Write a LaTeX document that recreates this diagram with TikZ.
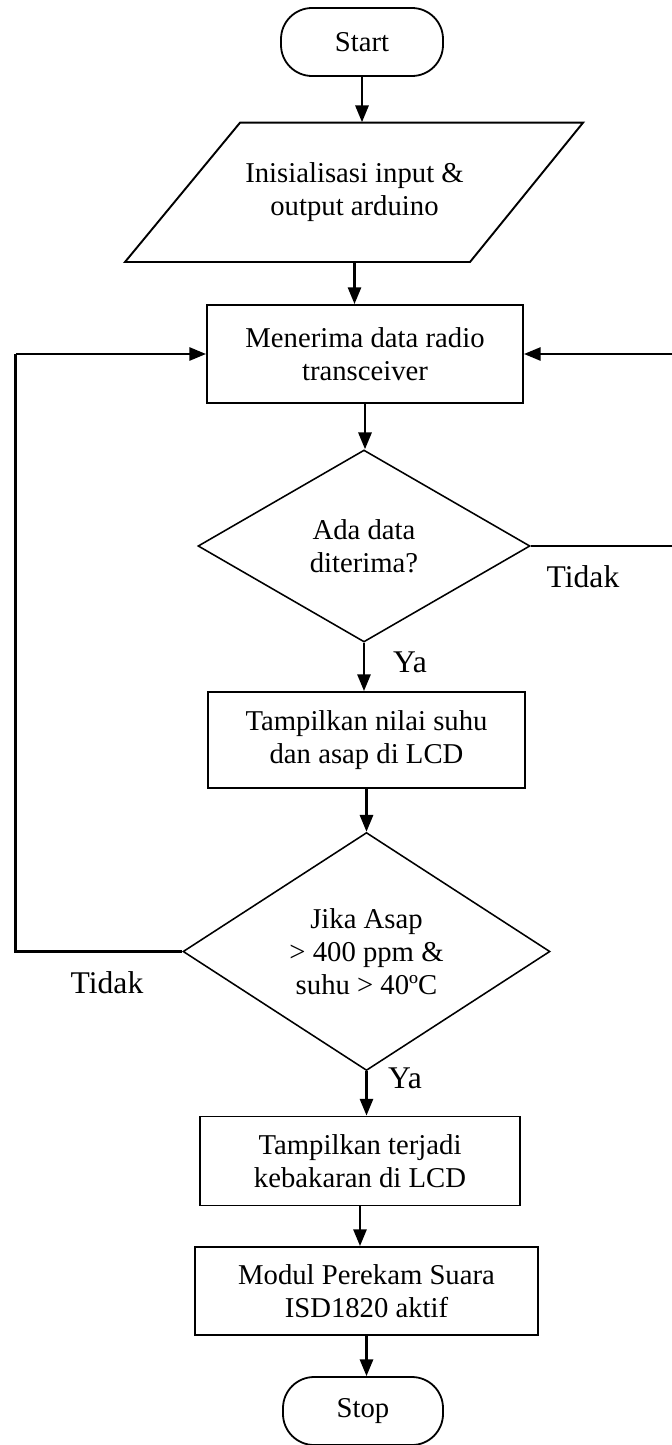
\documentclass[tikz,border=0pt]{standalone}
\usepackage{fontspec}
\setmainfont{Liberation Serif}
\usetikzlibrary{arrows.meta,shapes.geometric}
\begin{document}
\begin{tikzpicture}[x=0.418pt,y=-0.418pt,
  every node/.style={font=\fontsize{12}{13.8}\selectfont,align=center,inner sep=0pt},
  sz/.style 2 args={minimum width={#1*0.418pt},minimum height={#2*0.418pt}},
  term/.style={draw,line width=0.75pt,rectangle,rounded corners=13pt},
  procbox/.style={draw,line width=0.8pt,rectangle},
  decision/.style={draw,line width=0.65pt,diamond,aspect=1.6},
  arr/.style={line width=1pt,-{Triangle[length=7pt,width=5.5pt]}},
  plain/.style={line width=0.9pt},
  lbl/.style={anchor=base,font=\fontsize{13.2}{15}\selectfont}]
\useasboundingbox (0,0) rectangle (671,1445);
% nodes
\node[term,sz={162}{68}] (start) at (362,42) {Start};
\node[sz={230}{139.3}] (init) at (354.5,192.35) {Inisialisasi input \&\\output arduino};
\draw[line width=0.8pt] (240,122.7) -- (583,122.7) -- (470,262) -- (125,262) -- cycle;
\node[procbox,sz={316}{98}] (recv) at (365,354) {Menerima data radio\\transceiver};
\node[decision,sz={332}{192}] (d1) at (364,546) {Ada data\\diterima?};
\node[procbox,sz={317}{96}] (show) at (366.5,740) {Tampilkan nilai suhu\\dan asap di LCD};
\node[decision,sz={367}{238}] (d2) at (366.5,951.5) {Jika Asap\\> 400 ppm \&\\suhu > 40ºC};
\node[procbox,sz={320}{89}] (fire) at (360,1161) {Tampilkan terjadi\\kebakaran di LCD};
\node[procbox,sz={343}{88}] (rec) at (366.5,1291) {Modul Perekam Suara\\ISD1820 aktif};
\node[term,sz={160}{68}] (stop) at (363,1411) {Stop};
% labels
\node[lbl] (t1) at (583,587) {Tidak};
\node[lbl] (y1) at (410,672) {Ya};
\node[lbl] (t2) at (107,993) {Tidak};
\node[lbl] (y2) at (405,1088) {Ya};
% loop corners
\coordinate (r1) at (674,546);
\coordinate (r2) at (674,354);
\coordinate (l1) at (15.5,951.5);
\coordinate (l2) at (15.5,354);
% connectors
\draw[arr] (start.south) -- (start.south |- init.north);
\draw[arr] (init.south) -- (init.south |- recv.north);
\draw[arr] (recv.south) -- (recv.south |- d1.north);
\draw[arr] (d1.south) -- (d1.south |- show.north);
\draw[arr] (show.south) -- (show.south |- d2.north);
\draw[arr] (d2.south) -- (d2.south |- fire.north);
\draw[arr] (fire.south) -- (fire.south |- rec.north);
\draw[arr] (rec.south) -- (rec.south |- stop.north);
\draw[plain] (d1.east) -- (r1) -- (r2);
\draw[arr] (r2) -- (recv.east);
\draw[plain] (d2.west) -- (l1) -- (l2);
\draw[arr] (l2) -- (recv.west);
\end{tikzpicture}
\end{document}
